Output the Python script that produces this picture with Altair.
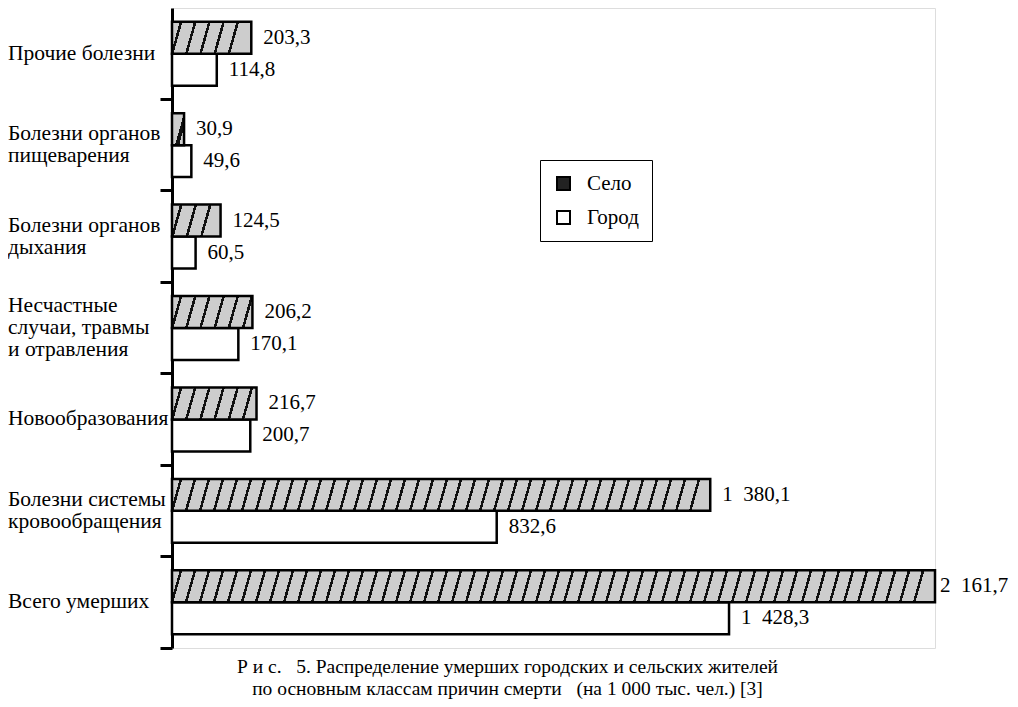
import altair as alt
import pandas as pd

causes = [
    "Прочие болезни",
    "Болезни органов\nпищеварения",
    "Болезни органов\nдыхания",
    "Несчастные\nслучаи, травмы\nи отравления",
    "Новообразования",
    "Болезни системы\nкровообращения",
    "Всего умерших",
]
selo = [203.3, 30.9, 124.5, 206.2, 216.7, 1380.1, 2161.7]
gorod = [114.8, 49.6, 60.5, 170.1, 200.7, 832.6, 1428.3]
series = ["Село", "Город"]
caption = [
    "Р и с.\u2002 5. Распределение умерших городских и сельских жителей",
    "по основным классам причин смерти\u2002 (на 1 000 тыс. чел.) [3]",
]

FONT = "'Liberation Serif', 'Times New Roman', 'DejaVu Serif', serif"
W, H = 763, 640
PX_PER_UNIT = 0.39
XMAX = W / PX_PER_UNIT
LH = 22


def fmt(v):
    s = f"{v:,.1f}"
    return s.replace(",", "\u2002").replace(".", ",")


rows = []
for c, s, g in zip(causes, selo, gorod):
    rows.append({"cause": c, "series": "Село", "value": s, "label": fmt(s)})
    rows.append({"cause": c, "series": "Город", "value": g, "label": fmt(g)})
df = pd.DataFrame(rows)

y_axis = alt.Axis(title=None, labels=False, ticks=True, tickSize=12, tickWidth=3,
                  tickColor="black", domainColor="black", domainWidth=3,
                  bandPosition=1, grid=False)
y_enc = alt.Y("cause:N", sort=None,
              scale=alt.Scale(domain=causes, paddingInner=0, paddingOuter=0),
              axis=y_axis)
yoff_enc = alt.YOffset("series:N",
                       scale=alt.Scale(domain=series, paddingInner=0, paddingOuter=0.43))
x_enc = alt.X("value:Q", scale=alt.Scale(domain=[0, XMAX], clamp=True, nice=False),
              axis=None)

base = alt.Chart(df)


def hatch(width_px):
    # diagonal hatching drawn as a striped gradient in the bar's bounding box
    period, thick = 14.0, 2.6
    gray, black = "#cdcdcd", "#111111"
    stops = [alt.GradientStop(offset=0, color=gray)]
    k = 0
    while True:
        start = (k * period + period * 0.55) / width_px
        end = start + thick / width_px
        if end > 1:
            break
        stops += [alt.GradientStop(offset=round(start, 5), color=gray),
                  alt.GradientStop(offset=round(start, 5), color=black),
                  alt.GradientStop(offset=round(end, 5), color=black),
                  alt.GradientStop(offset=round(end, 5), color=gray)]
        k += 1
    stops.append(alt.GradientStop(offset=1, color=gray))
    b = 9.0 / width_px
    return alt.LinearGradient(gradient="linear", stops=stops, x1=0, y1=0, x2=1, y2=b)


layers = []
# Город bars (carry the legend)
layers.append(
    base.transform_filter(alt.datum.series == "Город").mark_bar(
        stroke="black", strokeWidth=2.5
    ).encode(
        y=y_enc, yOffset=yoff_enc, x=x_enc,
        fill=alt.Fill("series:N",
                      scale=alt.Scale(domain=series, range=["#222222", "white"]),
                      legend=alt.Legend(title=None, orient="none", legendX=368, legendY=152,
                                        labelFont=FONT, labelFontSize=21, labelColor="black",
                                        symbolType="square", symbolSize=169,
                                        symbolStrokeColor="black", symbolStrokeWidth=2,
                                        labelOffset=13, rowPadding=12, padding=13,
                                        strokeColor="black", fillColor="white",
                                        symbolOpacity=1)),
    )
)
# Село bars, hatched
for c, s in zip(causes, selo):
    wpx = min(s * PX_PER_UNIT, W)
    layers.append(
        base.transform_filter((alt.datum.series == "Село") & (alt.datum.cause == c))
        .mark_bar(fill=hatch(wpx), stroke="black", strokeWidth=2.5)
        .encode(y=y_enc, yOffset=yoff_enc, x=x_enc)
    )

# value labels
layers.append(
    base.transform_filter(alt.datum.value <= XMAX).mark_text(
        align="left", baseline="middle", dx=12, font=FONT, fontSize=21, color="black"
    ).encode(y=y_enc, yOffset=yoff_enc, x=x_enc, text="label:N")
)
layers.append(
    base.transform_filter(alt.datum.value > XMAX).mark_text(
        align="left", baseline="middle", dx=5, font=FONT, fontSize=21, color="black"
    ).encode(y=y_enc, yOffset=yoff_enc, x=x_enc, text="label:N")
)

# category labels (grouped by number of lines so each block is centred on its band)
cat_df = pd.DataFrame({"cause": causes, "nlines": [c.count("\n") + 1 for c in causes]})
for n in sorted(cat_df["nlines"].unique()):
    layers.append(
        alt.Chart(cat_df).transform_filter(alt.datum.nlines == int(n)).mark_text(
            align="left", baseline="middle", font=FONT, fontSize=21.5, lineHeight=LH,
            lineBreak="\n", color="black", dy=-(int(n) - 1) * LH / 2
        ).encode(y=y_enc, x=alt.value(-164), text="cause:N")
    )

chart = alt.layer(*layers).properties(
    width=W, height=H,
    padding={"left": 0, "top": 0, "right": 0, "bottom": 4},
    title=alt.TitleParams(text=caption, orient="bottom", anchor="middle",
                          font=FONT, fontSize=19.5, fontWeight="normal",
                          lineHeight=22, dx=-46, offset=8, color="black"),
).configure_view(stroke=None).configure(background="white")

chart.save("out.html", embed_options={"renderer": "svg", "actions": False})
